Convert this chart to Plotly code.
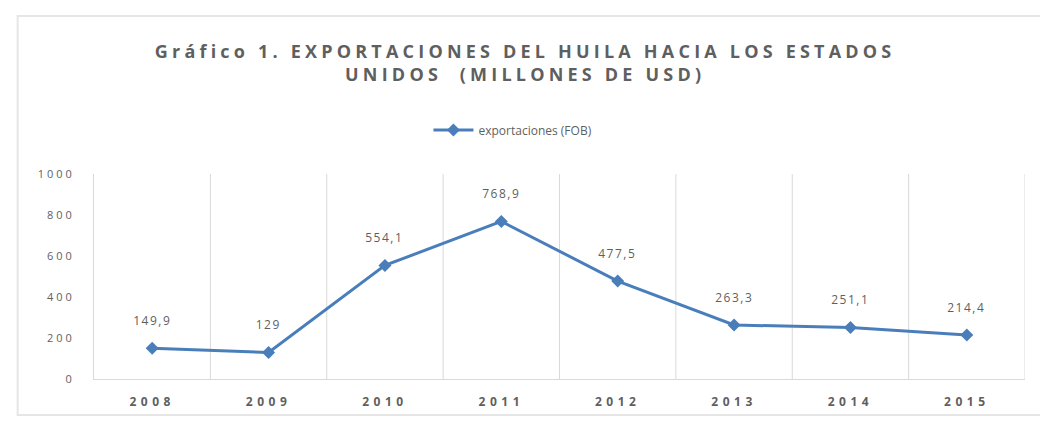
import plotly.graph_objects as go

# Exportaciones del Huila hacia Estados Unidos (millones de USD, FOB)
years = ["2008", "2009", "2010", "2011", "2012", "2013", "2014", "2015"]
exports_fob = [149.9, 129, 554.1, 768.9, 477.5, 263.3, 251.1, 214.4]
value_labels = ["149,9", "129", "554,1", "768,9", "477,5", "263,3", "251,1", "214,4"]
y_ticks = [0, 200, 400, 600, 800, 1000]

LINE_BLUE = "#4A7EBB"
TEXT_GREY = "#5F5F5F"
GRID_GREY = "#D9D9D9"
FONT = "Open Sans"

fig = go.Figure()
fig.add_trace(go.Scatter(
    x=years,
    y=exports_fob,
    mode="lines+markers",
    name="exportaciones (FOB)",
    line=dict(color=LINE_BLUE, width=3),
    marker=dict(symbol="diamond", size=10, color=LINE_BLUE),
    cliponaxis=False,
))

# chart title (annotation 0)
fig.add_annotation(
    text="Gráfico 1. EXPORTACIONES DEL HUILA HACIA LOS ESTADOS<br>UNIDOS  (MILLONES DE USD)",
    xref="paper", yref="paper", x=0.463, y=1.545, xanchor="center", yanchor="middle",
    showarrow=False, font=dict(family=FONT, size=18, color=TEXT_GREY, weight="bold"),
)

# value labels above each point (category position given by index)
for i, (val, lab) in enumerate(zip(exports_fob, value_labels)):
    fig.add_annotation(x=i, y=val, xref="x", yref="y", text=lab, showarrow=False,
                       yshift=28, font=dict(family=FONT, size=12, color=TEXT_GREY))

# vertical separators between the year categories
for i in range(len(years)):
    fig.add_shape(type="line", xref="x", yref="paper",
                  x0=i + 0.5, x1=i + 0.5, y0=0, y1=1,
                  line=dict(color=GRID_GREY, width=1), layer="below")

# outer chart frame
fig.add_shape(type="rect", xref="paper", yref="paper",
              x0=-0.082, x1=1.03, y0=-0.176, y1=1.771,
              line=dict(color="#E6E6E6", width=2))

fig.update_layout(
    width=1040, height=425,
    margin=dict(l=94, r=15, t=174, b=46),
    paper_bgcolor="white", plot_bgcolor="white",
    font=dict(family=FONT, color=TEXT_GREY),
    showlegend=True,
    legend=dict(orientation="h", x=0.45, xanchor="center", y=1.215, yanchor="middle",
                font=dict(size=12, color=TEXT_GREY), itemwidth=40),
    xaxis=dict(type="category", range=[-0.5, len(years) - 0.5],
               showgrid=False, showline=True, linecolor=GRID_GREY, linewidth=1,
               ticks="", ticklabelstandoff=12,
               tickfont=dict(size=12, color=TEXT_GREY, weight="bold")),
    yaxis=dict(range=[0, 1000], tickvals=y_ticks, showgrid=False,
               showline=True, linecolor=GRID_GREY, linewidth=1,
               ticks="", ticklabelstandoff=16,
               tickfont=dict(size=11, color=TEXT_GREY), zeroline=False),
)

# widen the letter spacing of the title, ticks and value labels
spacing_js = """
var gd = document.getElementById('{plot_id}');
function spaceText() {
  gd.querySelectorAll('g.annotation').forEach(function (g) {
    var idx = g.getAttribute('data-index');
    g.querySelectorAll('text').forEach(function (t) {
      t.style.letterSpacing = (idx === '0') ? '4.2px' : '1.5px';
    });
  });
  gd.querySelectorAll('.xtick text').forEach(function (t) { t.style.letterSpacing = '4.5px'; });
  gd.querySelectorAll('.ytick text').forEach(function (t) { t.style.letterSpacing = '3px'; });
}
spaceText();
gd.on('plotly_afterplot', spaceText);
"""

fig.write_html("out.html", post_script=spacing_js)
